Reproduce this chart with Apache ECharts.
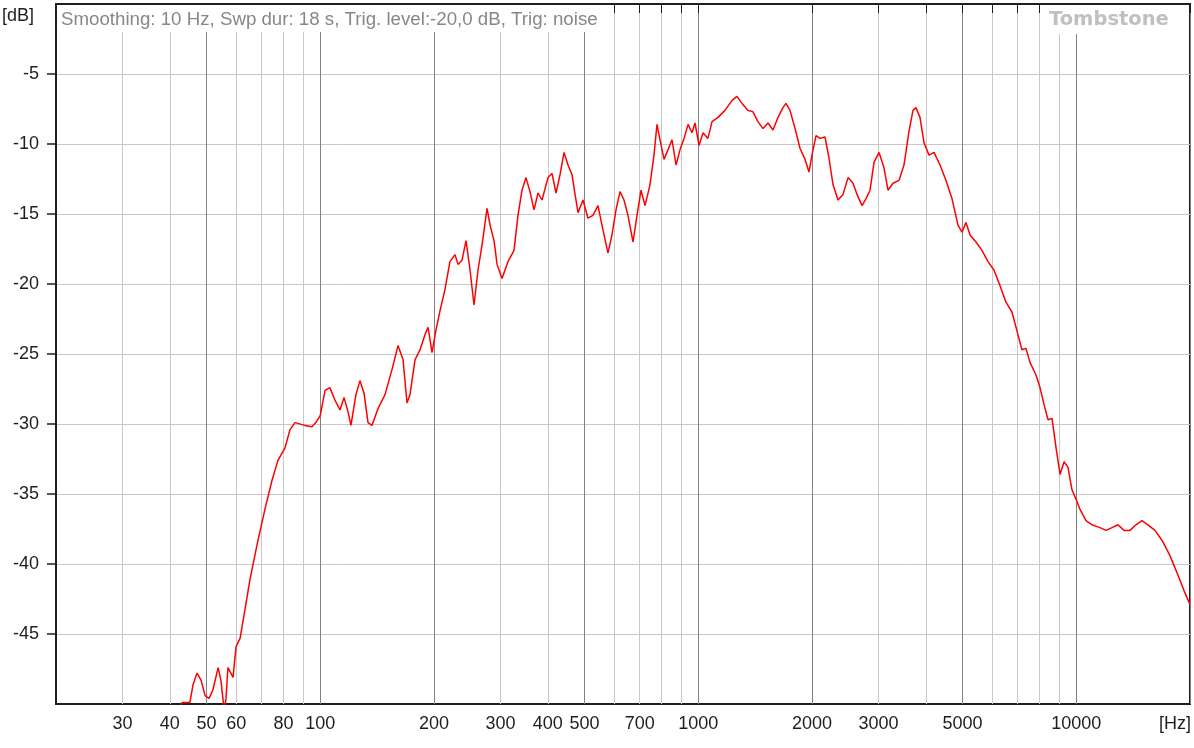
<!DOCTYPE html>
<html>
<head>
<meta charset="utf-8">
<title>Frequency response</title>
<script src="https://cdn.jsdelivr.net/npm/echarts@6/dist/echarts.min.js"></script>
<style>
  html, body { margin: 0; padding: 0; background: #fff; }
  #chart { width: 1194px; height: 748px; }
</style>
</head>
<body>
<div id="chart"></div>
<script>
// response (Hz / dB)
const freqHz = [
  42.1, 43.1, 45.2, 46.1, 47.2, 48.4, 49.6, 50.8, 52.0, 53.7,
  54.6, 55.7, 56.3, 57.0, 58.8, 59.9, 61.4, 63.2, 65.2, 68.1,
  71.4, 74.6, 77.3, 80.7, 83.2, 85.8, 91.1, 95.1, 97.4, 100,
  103, 106.1, 109.4, 112.8, 115.6, 118.4, 120.6, 124.3, 127.4, 130.6,
  133.8, 137.1, 142.2, 148.4, 154.9, 160.6, 165.6, 169.7, 172.8, 178.2,
  183.7, 189.4, 192.9, 197.6, 202.4, 207.5, 213.8, 220.4, 227.3, 231.5,
  237.2, 243.1, 249.1, 255.2, 261.5, 268.0, 276.3, 281.4, 288.3, 293.7,
  302.7, 313.9, 325.6, 333.6, 341.9, 350.3, 358.9, 367.8, 376.9, 386.2,
  400.5, 410.4, 420.6, 430.9, 441.6, 452.5, 463.7, 472.3, 480.9, 495.7,
  510.9, 526.7, 543.0, 556.4, 577.1, 591.4, 606.0, 621.0, 636.3, 652.0,
  672.2, 688.8, 705.8, 723.3, 745.6, 763.8, 778.0, 792.3, 812.0, 832.1,
  852.6, 873.7, 895.3, 917.4, 940.0, 963.0, 980.6, 1005, 1030, 1061,
  1088, 1128, 1177, 1228, 1266, 1306, 1354, 1396, 1439, 1484,
  1530, 1577, 1626, 1676, 1707, 1749, 1804, 1859, 1917, 1964,
  2000, 2049, 2100, 2165, 2218, 2273, 2343, 2416, 2491, 2568,
  2631, 2713, 2780, 2848, 2919, 3009, 3101, 3178, 3276, 3398,
  3503, 3611, 3700, 3768, 3861, 3957, 4080, 4206, 4362, 4524,
  4692, 4867, 4988, 5111, 5237, 5431, 5633, 5842, 6059, 6284,
  6518, 6760, 7011, 7185, 7363, 7546, 7827, 8020, 8219, 8423,
  8630, 8844, 9063, 9287, 9513, 9746, 10000, 10233, 10615, 11010,
  11560, 11990, 12435, 12897, 13376, 13874, 14389, 14924, 15479, 16155,
  16860, 17705, 18592, 19284, 20000
];
const levelDb = [
  -50.6, -49.9, -49.9, -48.6, -47.8, -48.3, -49.4, -49.6, -49.0, -47.4,
  -48.3, -50.4, -49.7, -47.4, -48.1, -45.9, -45.3, -43.3, -41.1, -38.6,
  -36.1, -34.0, -32.6, -31.7, -30.4, -29.9, -30.1, -30.2, -29.9, -29.4,
  -27.6, -27.4, -28.3, -29.0, -28.1, -29.1, -30.1, -27.9, -26.9, -27.8,
  -29.9, -30.1, -28.9, -27.9, -26.1, -24.4, -25.4, -28.5, -27.9, -25.4,
  -24.7, -23.6, -23.1, -24.9, -23.3, -21.9, -20.4, -18.4, -17.9, -18.6,
  -18.3, -16.9, -19.0, -21.5, -19.0, -17.2, -14.6, -15.8, -16.9, -18.6,
  -19.6, -18.4, -17.6, -15.1, -13.3, -12.4, -13.4, -14.7, -13.5, -14.0,
  -12.4, -12.1, -13.5, -12.2, -10.6, -11.5, -12.2, -13.6, -14.9, -14.0,
  -15.3, -15.1, -14.4, -15.8, -17.8, -16.5, -14.7, -13.4, -14.0, -15.1,
  -17.0, -15.1, -13.3, -14.4, -12.9, -10.8, -8.6, -9.7, -11.1, -10.4,
  -9.7, -11.5, -10.4, -9.6, -8.6, -9.2, -8.5, -10.1, -9.2, -9.6,
  -8.4, -8.1, -7.6, -6.9, -6.6, -7.1, -7.6, -7.7, -8.4, -8.9,
  -8.5, -9.0, -8.1, -7.4, -7.1, -7.6, -8.9, -10.3, -11.1, -12.0,
  -10.8, -9.4, -9.6, -9.5, -11.0, -12.9, -14.0, -13.6, -12.4, -12.8,
  -13.6, -14.4, -13.9, -13.3, -11.3, -10.6, -11.7, -13.3, -12.8, -12.6,
  -11.5, -9.1, -7.6, -7.4, -8.1, -9.9, -10.8, -10.6, -11.5, -12.6,
  -13.9, -15.8, -16.3, -15.6, -16.5, -17.0, -17.6, -18.4, -19.0, -20.1,
  -21.3, -22.0, -23.6, -24.7, -24.6, -25.6, -26.5, -27.4, -28.6, -29.7,
  -29.6, -31.7, -33.6, -32.7, -33.1, -34.7, -35.4, -36.1, -36.9, -37.2,
  -37.4, -37.6, -37.4, -37.2, -37.6, -37.6, -37.2, -36.9, -37.2, -37.6,
  -38.3, -39.4, -40.8, -41.9, -42.9
];

// x grid lines, the 1-2-5 ones drawn darker
const gridFreqs = [30, 40, 50, 60, 70, 80, 90, 100, 200, 300, 400, 500, 600, 700, 800, 900,
  1000, 2000, 3000, 4000, 5000, 6000, 7000, 8000, 9000, 10000, 20000];
const majorFreqs = [50, 100, 200, 500, 1000, 2000, 5000, 10000, 20000];
const freqLabels = [30, 40, 50, 60, 80, 100, 200, 300, 400, 500, 700, 1000, 2000, 3000, 5000, 10000];
const dbTicks = [-5, -10, -15, -20, -25, -30, -35, -40, -45];

const ink = '#1e1e1e';
const chart = echarts.init(document.getElementById('chart'));

chart.setOption({
  animation: false,
  grid: {
    left: 56, right: 4, top: 4, bottom: 44,
    outerBoundsMode: 'none',
    show: true, borderColor: ink, borderWidth: 2, backgroundColor: '#fff'
  },
  xAxis: {
    type: 'log', logBase: 10, min: 20, max: 20000,
    axisLine: { lineStyle: { color: ink, width: 2 } },
    axisTick: { customValues: gridFreqs, length: 9, lineStyle: { color: ink, width: 1 } },
    axisLabel: {
      customValues: freqLabels, margin: 11, color: ink,
      fontFamily: 'Liberation Sans', fontSize: 18,
      formatter: v => String(Math.round(v))
    },
    splitLine: {
      show: true,
      lineStyle: { width: 1, color: gridFreqs.map(f => majorFreqs.includes(f) ? '#828282' : '#c8c8c8') }
    }
  },
  yAxis: {
    type: 'value', min: -50, max: 0, interval: 5,
    axisLine: { show: true, lineStyle: { color: ink, width: 2 } },
    axisTick: { show: true, customValues: dbTicks, length: 9, lineStyle: { color: ink, width: 1.5 } },
    axisLabel: {
      customValues: dbTicks, margin: 17, color: ink,
      fontFamily: 'Liberation Sans', fontSize: 18
    },
    splitLine: { show: true, lineStyle: { color: '#c8c8c8', width: 1 } }
  },
  series: [{
    type: 'line',
    data: freqHz.map((f, i) => [f, levelDb[i]]),
    symbol: 'none',
    clip: true,
    lineStyle: { color: '#ff0000', width: 1.5 }
  }],
  graphic: [
    { type: 'text', x: 2, y: 7, z: 100, style: { text: '[dB]', fill: ink, font: '18px "Liberation Sans"' } },
    { type: 'rect', z: 100, shape: { x: 57, y: 5, width: 552, height: 23 }, style: { fill: '#ffffff', stroke: null } },
    {
      type: 'text', x: 59, y: 8, z: 101,
      style: {
        text: 'Smoothing: 10 Hz, Swp dur: 18 s, Trig. level:-20,0 dB, Trig: noise',
        fill: '#878787', font: '18.7px "Liberation Sans"',
        backgroundColor: '#ffffff', padding: [2, 8, 3, 2]
      }
    },
    { type: 'rect', z: 100, shape: { x: 1040, y: 5, width: 140, height: 25 }, style: { fill: '#ffffff', stroke: null } },
    {
      type: 'text', x: 1045, y: 8, z: 101,
      style: {
        text: 'Tombstone', fill: '#c0c0c0', font: 'bold 19.5px "DejaVu Sans"',
        backgroundColor: '#ffffff', padding: [2, 6, 4, 4]
      }
    },
    { type: 'text', x: 1191, y: 715, z: 100, style: { text: '[Hz]', fill: ink, align: 'right', font: '18px "Liberation Sans"' } }
  ]
});
</script>
</body>
</html>
